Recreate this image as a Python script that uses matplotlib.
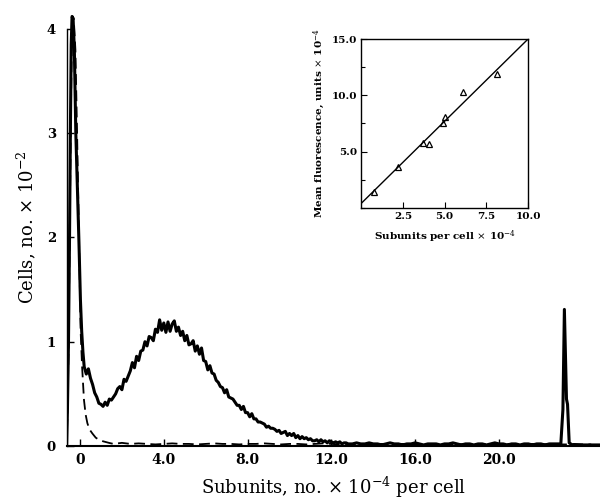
import numpy as np
import matplotlib
matplotlib.use("Agg")
from matplotlib import pyplot as plt
from matplotlib.ticker import MultipleLocator

plt.rcParams["font.family"] = ["DejaVu Serif"]
plt.rcParams["mathtext.fontset"] = "dejavuserif"

# --- main histogram: solid curve (labelled cells) ---
spike_x = [-0.64, -0.6, -0.55, -0.5, -0.46, -0.42, -0.38, -0.33, -0.27, -0.2, -0.12, -0.05, 0.02, 0.08, 0.14]
spike_y = [0.0, 0.35, 1.0, 2.0, 3.0, 3.85, 4.12, 4.1, 3.8, 3.0, 2.45, 1.95, 1.4, 1.1, 0.9]

hump_start, hump_step = 0.2, 0.1
hump_y = [
    0.76, 0.69, 0.74, 0.65, 0.59, 0.51, 0.47, 0.41, 0.40, 0.38,
    0.42, 0.39, 0.45, 0.44, 0.47, 0.50, 0.55, 0.57, 0.54, 0.64,
    0.62, 0.67, 0.72, 0.80, 0.75, 0.86, 0.82, 0.91, 0.92, 1.00,
    0.96, 1.05, 1.04, 1.01, 1.12, 1.09, 1.21, 1.11, 1.18, 1.09,
    1.19, 1.10, 1.17, 1.20, 1.10, 1.14, 1.06, 1.10, 1.01, 1.06,
    0.97, 0.98, 1.01, 0.91, 0.96, 0.88, 0.94, 0.82, 0.81, 0.73,
    0.77, 0.70, 0.69, 0.63, 0.61, 0.57, 0.56, 0.51, 0.54, 0.47,
    0.46, 0.45, 0.42, 0.39, 0.39, 0.35, 0.38, 0.32, 0.32, 0.28,
    0.31, 0.26, 0.26, 0.23, 0.23, 0.22, 0.21, 0.18, 0.19, 0.17,
    0.17, 0.16, 0.14, 0.15, 0.12, 0.13, 0.14, 0.10, 0.12, 0.10,
    0.12, 0.08, 0.10, 0.07, 0.09, 0.07, 0.08, 0.06, 0.07, 0.05,
    0.05, 0.06, 0.04, 0.06, 0.04, 0.05, 0.03, 0.05, 0.04, 0.03,
    0.04, 0.03, 0.04, 0.02, 0.03, 0.03, 0.02, 0.02,
]

tail_start, tail_step = 13.0, 0.2
tail_y = [
    0.02, 0.03, 0.02, 0.02, 0.03, 0.02, 0.02, 0.01, 0.02, 0.03,
    0.02, 0.02, 0.01, 0.02, 0.02, 0.03, 0.02, 0.01, 0.02, 0.02,
    0.02, 0.01, 0.02, 0.02, 0.03, 0.02, 0.01, 0.02, 0.02, 0.01,
    0.02, 0.02, 0.01, 0.02, 0.03, 0.02, 0.02, 0.01, 0.02, 0.02,
    0.01, 0.02, 0.02, 0.01, 0.02, 0.02, 0.01, 0.02, 0.02, 0.02,
]

bead_x = [22.95, 23.05, 23.12, 23.17, 23.22, 23.27, 23.35, 23.5, 23.8, 24.1, 24.4, 24.8]
bead_y = [0.02, 0.35, 1.31, 0.9, 0.45, 0.40, 0.03, 0.01, 0.01, 0.01, 0.01, 0.01]

# --- main histogram: dashed curve (control) ---
ctrl_x = [-0.64, -0.6, -0.55, -0.5, -0.45, -0.4, -0.35, -0.3, -0.22, -0.14, -0.05, 0.03,
          0.1, 0.19, 0.27, 0.35, 0.45, 0.59, 0.75, 0.9, 1.1, 1.38]
ctrl_y = [0.0, 0.3, 0.9, 1.9, 2.9, 3.8, 4.12, 4.1, 3.8, 3.0, 2.0, 1.1,
          0.76, 0.44, 0.30, 0.22, 0.16, 0.12, 0.08, 0.06, 0.045, 0.03]
ctrl_tail_start, ctrl_tail_step = 1.6, 0.4
ctrl_tail_y = [
    0.02, 0.03, 0.02, 0.025, 0.02, 0.015, 0.02, 0.025, 0.02, 0.02,
    0.015, 0.02, 0.025, 0.02, 0.02, 0.015, 0.02, 0.02, 0.025, 0.02,
    0.015, 0.02, 0.02, 0.015, 0.02, 0.025, 0.02, 0.015, 0.02, 0.02,
    0.015, 0.02, 0.02, 0.015, 0.02, 0.02, 0.015, 0.02, 0.02, 0.015,
    0.02, 0.015, 0.02, 0.02, 0.015, 0.02, 0.015, 0.02, 0.02, 0.015,
    0.02, 0.015, 0.02, 0.015, 0.015, 0.02, 0.015, 0.015,
]

# --- inset: calibration ---
cal_subunits = [0.74, 2.23, 3.73, 4.05, 4.93, 5.05, 6.1, 8.14]
cal_fluor = [1.39, 3.6, 5.78, 5.66, 7.55, 8.08, 10.27, 11.86]
fit_x = [0.0, 10.0]
fit_y = [0.4, 15.0]

hump_x = hump_start + hump_step * np.arange(len(hump_y))
tail_x = tail_start + tail_step * np.arange(len(tail_y))
ctrl_tail_x = ctrl_tail_start + ctrl_tail_step * np.arange(len(ctrl_tail_y))

solid_x = np.concatenate([spike_x, hump_x, tail_x, bead_x])
solid_y = np.concatenate([spike_y, hump_y, tail_y, bead_y])
dash_x = np.concatenate([ctrl_x, ctrl_tail_x])
dash_y = np.concatenate([ctrl_y, ctrl_tail_y])

fig = plt.figure(figsize=(6, 5.01), dpi=100)
ax = fig.add_axes([0.1117, 0.1098, 0.8883, 0.874])
ax.plot(dash_x, dash_y, color="black", lw=1.3, ls=(0, (6, 3)))
ax.plot(solid_x, solid_y, color="black", lw=2.2, solid_joinstyle="round")

ax.set_xlim(-0.62, 24.82)
ax.set_ylim(0, 4.2)
ax.spines["top"].set_visible(False)
ax.spines["right"].set_visible(False)
ax.spines["left"].set_bounds(0, 4)
ax.spines["left"].set_linewidth(1.0)
ax.spines["bottom"].set_linewidth(1.5)

ax.set_xticks([0, 4, 8, 12, 16, 20])
ax.set_xticklabels(["0", "4.0", "8.0", "12.0", "16.0", "20.0"])
ax.set_yticks([0, 1, 2, 3, 4])
ax.tick_params(axis="both", direction="in", length=5, width=1, color="black")
ax.tick_params(axis="x", labelsize=10, pad=5)
ax.tick_params(axis="y", labelsize=9.5, pad=8)
for lab in ax.get_yticklabels():
    lab.set_fontweight("bold")
for lab in ax.get_xticklabels():
    lab.set_fontweight("semibold")

ax.set_xlabel(r"Subunits, no. $\times$ 10$^{-4}$ per cell", fontsize=13, labelpad=6)
ax.set_ylabel(r"Cells, no. $\times$ 10$^{-2}$", fontsize=13, labelpad=6)

# inset
ins = fig.add_axes([0.602, 0.585, 0.278, 0.337])
ins.plot(fit_x, fit_y, color="black", lw=1.0)
ins.plot(cal_subunits, cal_fluor, ls="none", marker="^", ms=4.5,
         mfc="none", mec="black", mew=0.9)
ins.set_xlim(0, 10)
ins.set_ylim(0, 15)
ins.set_xticks([2.5, 5.0, 7.5, 10.0])
ins.set_xticklabels(["2.5", "5.0", "7.5", "10.0"])
ins.set_yticks([5.0, 10.0, 15.0])
ins.set_yticklabels(["5.0", "10.0", "15.0"])
ins.yaxis.set_minor_locator(MultipleLocator(2.5))
ins.tick_params(which="both", direction="in", width=0.8)
ins.tick_params(which="major", length=4, labelsize=7.5, pad=3)
ins.tick_params(which="minor", length=3)
for lab in ins.get_xticklabels() + ins.get_yticklabels():
    lab.set_fontweight("bold")
for sp in ins.spines.values():
    sp.set_linewidth(1.0)
ins.set_xlabel(r"Subunits per cell $\times$ 10$^{-4}$", fontsize=7.5,
               fontweight="bold", labelpad=5)
ins.set_ylabel(r"Mean fluorescence, units $\times$ 10$^{-4}$", fontsize=7.5,
               fontweight="bold", labelpad=3)

fig.savefig("out.png", dpi=100)
